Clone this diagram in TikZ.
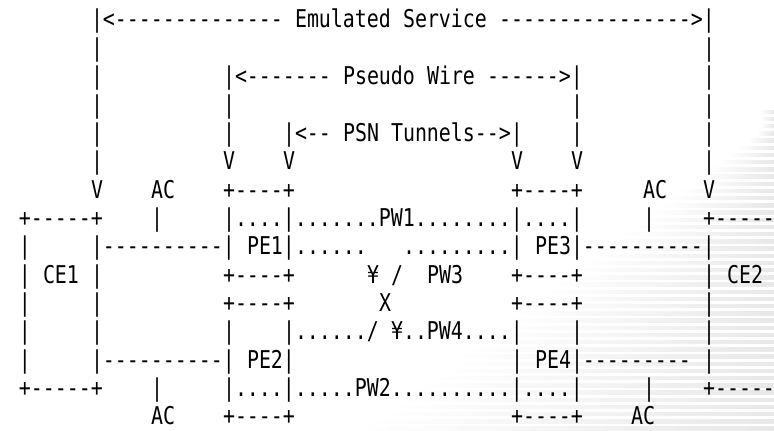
\documentclass[tikz,border=0pt]{standalone}
\usepackage{fontspec}
\newfontfamily\asciifont[Ligatures=TeXOff,FakeStretch=0.8135]{DejaVu Sans Mono}

\tikzset{
  ascii/.style={font=\asciifont\fontsize{24.5}{28}\selectfont, anchor=base west, inner sep=0pt, outer sep=0pt},
  stripe/.style={left color=white, right color=black!9}
}

\begin{document}
\begin{tikzpicture}[x=12pt,y=-28.34pt]
    \useasboundingbox (-19pt,28pt) rectangle (755pt,-403pt);

    % faded stripes on the right
    \begin{scope}[shift={(-19pt,28pt)},x=1pt,y=-1pt]
      \foreach \i in {0,...,44} {
        \pgfmathsetmacro{\sy}{110+7.2*\i}
        \pgfmathsetmacro{\sx}{min(760,max(360,800-1.35*(\sy-100)))}
        \shade[stripe] (\sx,\sy) rectangle (774,\sy+3.4);
      }
    \end{scope}

    % column / row / text
    \foreach \c/\r/\t in {
      6/0/{|<--------------}, 23/0/{Emulated}, 32/0/{Service}, 40/0/{---------------->|},
      6/1/{|}, 57/1/{|},
      6/2/{|}, 17/2/{|<-------}, 27/2/{Pseudo}, 34/2/{Wire}, 39/2/{------>|}, 57/2/{|},
      6/3/{|}, 17/3/{|}, 46/3/{|}, 57/3/{|},
      6/4/{|}, 17/4/{|}, 22/4/{|<--}, 27/4/{PSN}, 31/4/{Tunnels-->|}, 46/4/{|}, 57/4/{|},
      6/5/{|}, 17/5/{V}, 22/5/{V}, 41/5/{V}, 46/5/{V}, 57/5/{|},
      6/6/{V}, 11/6/{AC}, 17/6/{+----+}, 41/6/{+----+}, 52/6/{AC}, 57/6/{V},
      0/7/{+-----+}, 11/7/{|}, 17/7/{|....|.......PW1........|....|}, 52/7/{|}, 57/7/{+-----},
      0/8/{|}, 6/8/{|----------|}, 19/8/{PE1|}, 23/8/{......}, 32/8/{.........|}, 43/8/{PE3|----------|},
      0/9/{|}, 2/9/{CE1}, 6/9/{|}, 17/9/{+----+}, 29/9/{¥}, 31/9/{/}, 34/9/{PW3}, 41/9/{+----+}, 57/9/{|}, 59/9/{CE2},
      0/10/{|}, 6/10/{|}, 17/10/{+----+}, 30/10/{X}, 41/10/{+----+}, 57/10/{|},
      0/11/{|}, 6/11/{|}, 17/11/{|}, 22/11/{|....../}, 31/11/{¥..PW4....|}, 46/11/{|}, 57/11/{|},
      0/12/{|}, 6/12/{|----------|}, 19/12/{PE2|}, 41/12/{|}, 43/12/{PE4|---------}, 57/12/{|},
      0/13/{+-----+}, 11/13/{|}, 17/13/{|....|.....PW2..........|....|}, 52/13/{|}, 57/13/{+-----},
      11/14/{AC}, 17/14/{+----+}, 41/14/{+----+}, 51/14/{AC}}
      \node[ascii] (n\r-\c) at (\c,\r) {\t};

\end{tikzpicture}
\end{document}
